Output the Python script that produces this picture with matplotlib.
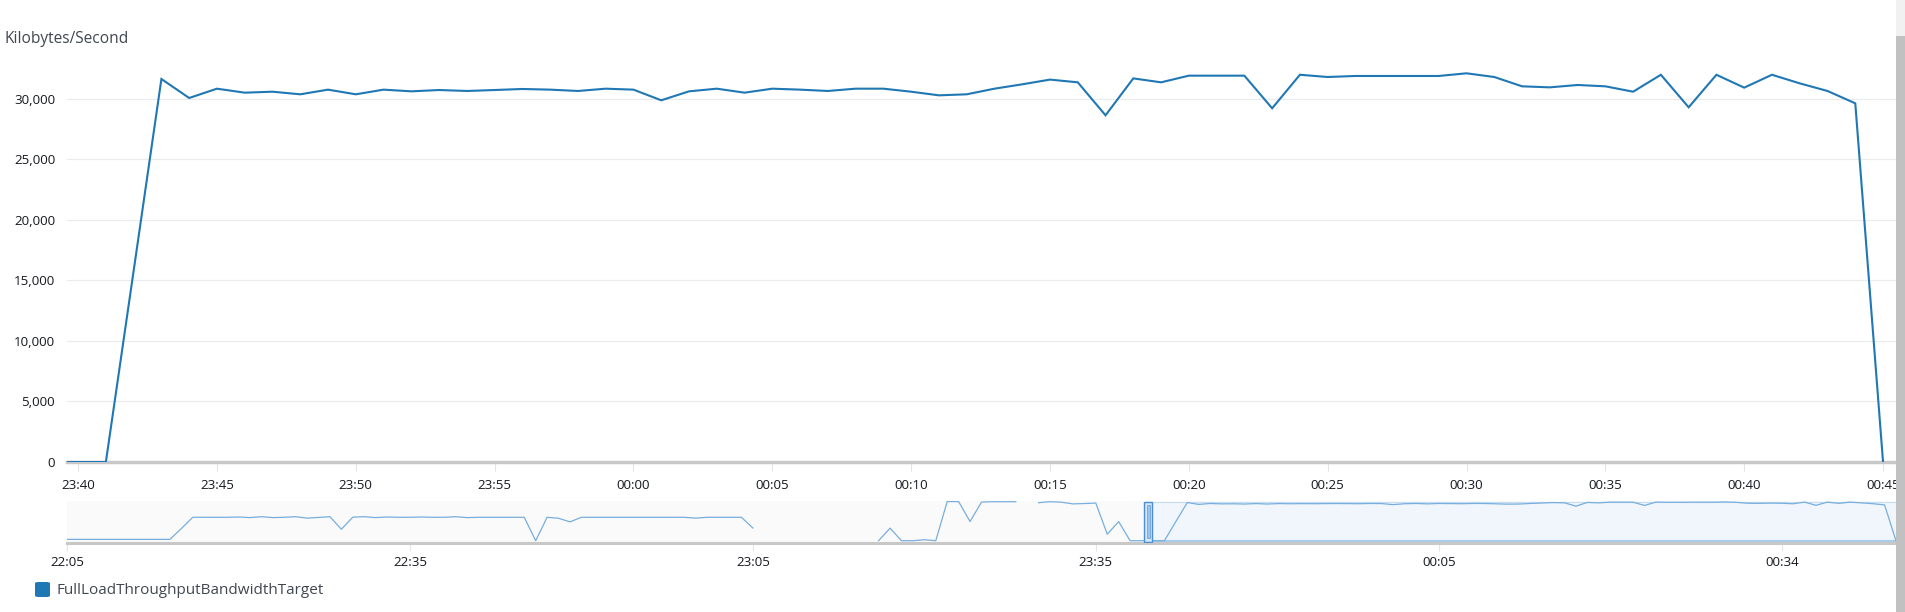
import numpy as np
import pandas as pd
import matplotlib
matplotlib.use("Agg")
import matplotlib.pyplot as plt
import matplotlib.dates as mdates
from matplotlib.patches import Rectangle, FancyBboxPatch

plt.rcParams['font.family'] = ['Open Sans', 'DejaVu Sans']

# ---------------- data ----------------
series_name = "FullLoadThroughputBandwidthTarget"
y_label = "Kilobytes/Second"

# main series: one point per minute, 23:39 -> 00:45
main_start = "2024-01-01 23:39"
main_values = [
    0, 0, 0, 15800, 31650, 30080, 30850, 30520, 30600, 30385,      # 23:39-23:48
    30770, 30385, 30770, 30630, 30740, 30660, 30740, 30825, 30770, 30660,  # 23:49-23:58
    30850, 30770, 29890, 30630, 30850, 30520, 30850, 30770, 30660, 30850,  # 23:59-00:08
    30850, 30600, 30300, 30385, 30850, 31210, 31600, 31375, 28650, 31700,  # 00:09-00:18
    31375, 31925, 31925, 31925, 29230, 32000, 31815, 31900, 31900, 31900,  # 00:19-00:28
    31900, 32120, 31815, 31045, 30960, 31155, 31045, 30600, 32000, 29310,  # 00:29-00:38
    32000, 30935, 32000, 31290, 30660, 29640, 0,                         # 00:39-00:45
]

# earlier history only visible in the navigator: one point per minute, 22:05 -> 23:38
nav_start = "2024-01-01 22:05"
nav_history = [
    1100, 1100, 1100, 1100, 1100, 1100, 1100, 1100, 1100, 1100,      # 22:05-22:14
    10000, 19400, 19400, 19400, 19400, 19650, 19150, 19900, 19150, 19400,  # 22:15-22:24
    19900, 18700, 19300, 19900, 9500, 19500, 19900, 19150, 19650, 19400,   # 22:25-22:34
    19400, 19650, 19400, 19400, 19900, 19150, 19400, 19400, 19400, 19400,  # 22:35-22:44
    19400, 0, 19400, 18600, 15600, 19400, 19400, 19400, 19400, 19400,      # 22:45-22:54
    19400, 19400, 19400, 19400, 19400, 18700, 19400, 19400, 19400, 19400,  # 22:55-23:04
    10500, None, None, None, None, None, None, None, None, None,           # 23:05-23:14
    None, 0, 10400, 0, 0, 800, 0, 32400, 32400, 15900,                     # 23:15-23:24
    32000, 32300, 32300, 32300, None, 31500, 32300, 31900, 30500, 30800,   # 23:25-23:34
    31200, 5400, 15800, 0,                                                 # 23:35-23:38
]
nav_tick_labels = ["22:05", "22:35", "23:05", "23:35", "00:05", "00:34"]

# ---------------- figure ----------------
W, H = 1905, 612
fig = plt.figure(figsize=(W / 100, H / 100), dpi=100)
fig.patch.set_facecolor("white")

def fx(px):
    return px / W

def fy(py):
    return 1 - py / H

line_color = "#1f77b4"
nav_color = "#78aedd"
tick_color = "#16191f"
label_color = "#414750"

main_times = pd.date_range(main_start, periods=len(main_values), freq="min")
main_vals = np.array(main_values, dtype=float)

ax_left, ax_right = 67, 1896
ax = fig.add_axes([fx(ax_left), fy(462), fx(ax_right - ax_left), (462 - 55.4) / H])
ax.plot(main_times, main_vals, color=line_color, lw=1.5, solid_joinstyle="miter", zorder=3)
x0 = pd.Timestamp("2024-01-01 23:39:36")
x1 = pd.Timestamp("2024-01-02 00:45:28")
ax.set_xlim(x0, x1)
ax.set_ylim(0, 33600)
ax.set_yticks(np.arange(0, 30001, 5000))
ax.yaxis.set_major_formatter(matplotlib.ticker.FuncFormatter(lambda v, p: f"{int(v):,}"))
ax.xaxis.set_major_locator(mdates.MinuteLocator(byminute=range(0, 60, 5)))
ax.xaxis.set_major_formatter(mdates.DateFormatter("%H:%M"))
for s in ax.spines.values():
    s.set_visible(False)
ax.grid(axis="y", color="#e9ebed", lw=0.8, zorder=0)
ax.axhline(0, color="#c8c8c8", lw=2.5, clip_on=False, zorder=2)
ax.tick_params(axis="y", length=0, pad=8.5, labelsize=9.6, labelcolor=tick_color)
ax.tick_params(axis="x", length=6.5, width=0.8, color="#e4e4e4", pad=6, labelsize=9.6,
               labelcolor=tick_color)

fig.text(fx(5), fy(39), y_label, fontsize=11.2, color=label_color, ha="left", va="center")

# ---------------- navigator ----------------
nav_hist_times = pd.date_range(nav_start, periods=len(nav_history), freq="min")
nav_hist_vals = np.array([np.nan if v is None else v for v in nav_history], dtype=float)
nav_times = nav_hist_times.append(main_times)
nav_vals = np.concatenate([nav_hist_vals, main_vals])

nav = fig.add_axes([fx(ax_left), fy(543), fx(ax_right - ax_left), 42 / H])
nav.set_facecolor("#fafafa")
nav_x0 = pd.Timestamp(nav_start)
nav_x1 = nav_x0 + pd.Timedelta(minutes=160)
nav.set_xlim(nav_x0, nav_x1)
nav.set_ylim(-1900, 32900)
nav.set_yticks([])
for s in nav.spines.values():
    s.set_visible(False)

# selection (main view range)
sel = Rectangle((mdates.date2num(x0), 0.05), mdates.date2num(x1) - mdates.date2num(x0), 0.926,
                transform=nav.get_xaxis_transform(), facecolor="#f0f6fc", edgecolor="none", zorder=1)
nav.add_patch(sel)
nav.plot([x0, x1], [0.976, 0.976], transform=nav.get_xaxis_transform(), color="#c7ddf2", lw=0.8, zorder=2)
nav.plot([x0, x1], [0.05, 0.05], transform=nav.get_xaxis_transform(), color="#a9cbec", lw=1.5, zorder=2)

nav.plot(nav_times, nav_vals, color=nav_color, lw=0.9, zorder=3)

# handle
ppm = (ax_right - ax_left) / 160.0  # px per minute in navigator
hw = 4 / ppm  # half-width in minutes
hc = mdates.date2num(x0)
hwd = hw / (24 * 60)
nav.add_patch(Rectangle((hc - hwd, 0.03), 2 * hwd, 0.95, transform=nav.get_xaxis_transform(),
                        facecolor="#d5e6f7", edgecolor="#4a8fd6", lw=1.0, zorder=5))
nav.add_patch(Rectangle((hc - hwd * 0.3, 0.12), 0.6 * hwd, 0.78, transform=nav.get_xaxis_transform(),
                        facecolor="#9fc3ea", edgecolor="#6fa6de", lw=0.6, zorder=6))

nav.axhline(-1900, color="#c8c8c8", lw=2.2, clip_on=False, zorder=4)
nav_ticks = [nav_x0 + pd.Timedelta(minutes=30 * k) for k in range(len(nav_tick_labels))]
nav.set_xticks(nav_ticks)
nav.set_xticklabels(nav_tick_labels)
nav.tick_params(axis="x", length=6, width=0.8, color="#e4e4e4", pad=3.5, labelsize=9.6,
                labelcolor=tick_color)

# ---------------- legend ----------------
fig.add_artist(FancyBboxPatch((fx(35), fy(597)), fx(15), 15 / H,
                              boxstyle="round,pad=0,rounding_size=0.002",
                              transform=fig.transFigure, facecolor=line_color, edgecolor="none"))
fig.text(fx(56), fy(590), series_name, fontsize=11.0, color=label_color, ha="left", va="center")

# ---------------- scrollbar ----------------
fig.add_artist(Rectangle((fx(1896), fy(36)), fx(9), 36 / H, transform=fig.transFigure,
                         facecolor="#f1f1f1", edgecolor="none", zorder=10))
fig.add_artist(Rectangle((fx(1896), 0), fx(9), fy(36), transform=fig.transFigure,
                         facecolor="#c1c1c1", edgecolor="none", zorder=10))

fig.savefig("out.png", dpi=100, facecolor="white")
